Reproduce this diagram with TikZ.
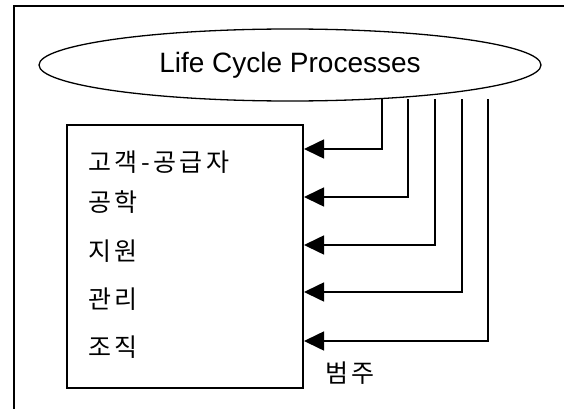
\documentclass[tikz,border=0pt]{standalone}
\usepackage{fontspec}
\setmainfont{Liberation Sans}
\newfontfamily\kr[LetterSpace=14]{Noto Sans CJK KR}
\usetikzlibrary{shapes.geometric,arrows.meta}
\tikzset{
  frameline/.style={line width=2pt},
  proc/.style={draw,ellipse,line width=1.3pt,inner sep=0pt,minimum width=502pt,minimum height=72pt,font=\fontsize{28}{30}\selectfont},
  catbox/.style={draw,rectangle,line width=2pt,inner sep=0pt,minimum width=236pt,minimum height=263pt},
  cat/.style={anchor=west,inner sep=0pt,font=\kr\fontsize{25}{27}\selectfont},
  arr/.style={line width=1.6pt,-{Triangle[length=20pt,width=19pt]}}
}
\begin{document}
\begin{tikzpicture}[x=1pt,y=-1pt]
\useasboundingbox (0,0) rectangle (564,409);
\coordinate (ftop) at (564,6);
\coordinate (fcorner) at (14,6);
\coordinate (fbot) at (14,409);
\draw[frameline] (ftop) -- (fcorner) -- (fbot);
\node[proc] (lcp) at (290,65) {Life Cycle Processes};
\node[catbox] (box) at (185,256.5) {};
\node[cat] (c1) at (88,162) {고객-공급자};
\node[cat] (c2) at (88,202) {공학};
\node[cat] (c3) at (88,251) {지원};
\node[cat] (c4) at (88,299) {관리};
\node[cat] (c5) at (88,347) {조직};
\node[cat] (leg) at (325,373) {범주};
\foreach \i/\x/\y in {1/382/149,2/408/197,3/435/245,4/462/292,5/488/341}{
  \coordinate (v\i) at (\x,100);
  \coordinate (h\i) at (\x,\y);
  \draw[arr,line cap=rect] (v\i) -- (h\i) -- (h\i -| box.east);
}
\end{tikzpicture}
\end{document}
